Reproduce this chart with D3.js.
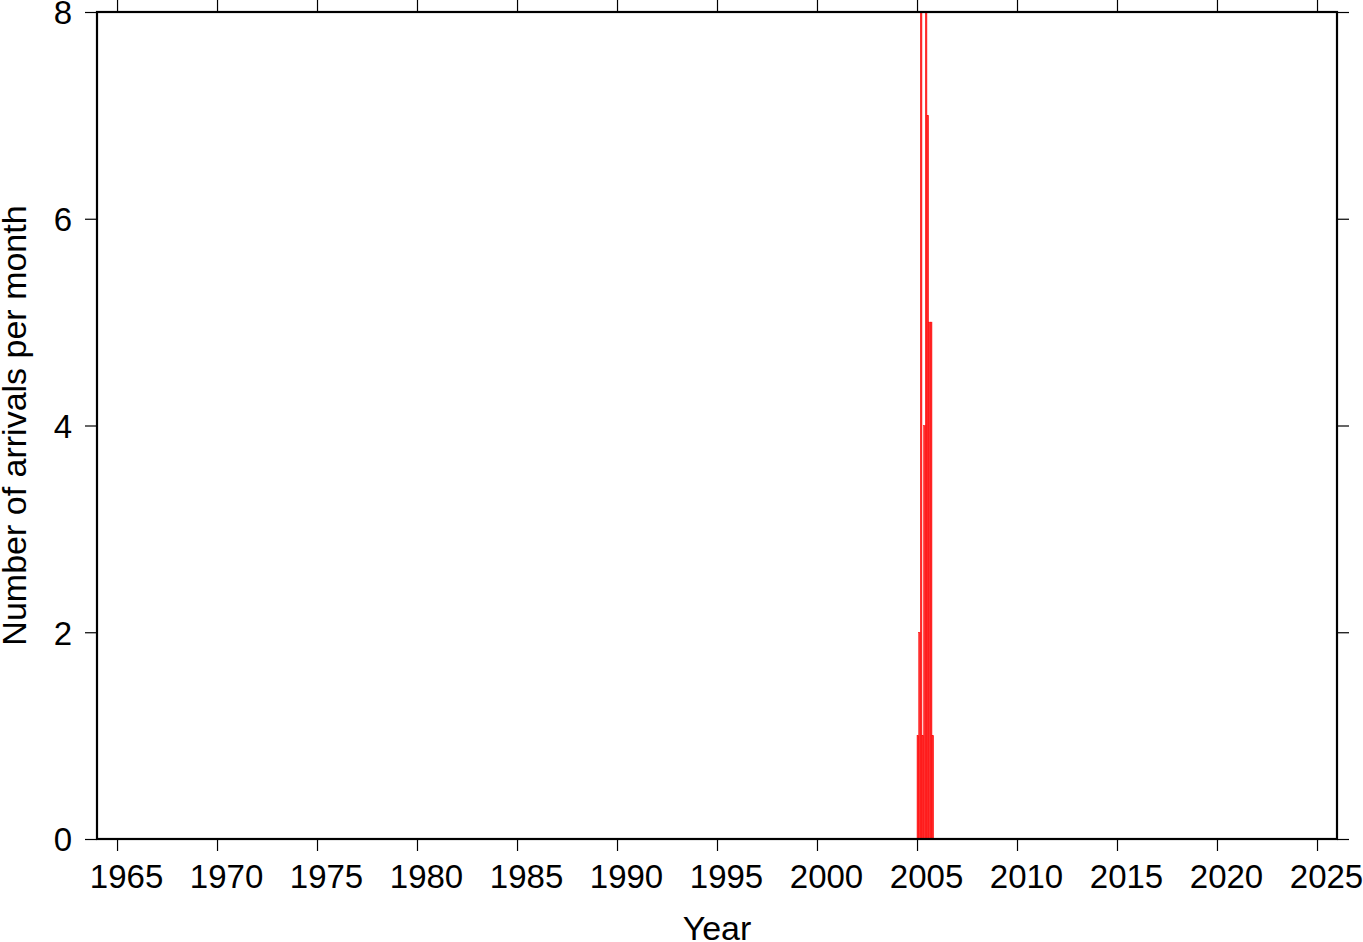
<!DOCTYPE html>
<html>
<head>
<meta charset="utf-8">
<script src="https://cdn.jsdelivr.net/npm/d3@7"></script>
<style>
  html, body { margin: 0; padding: 0; background: #fff; }
  svg { display: block; }
  text { font-family: "Liberation Sans", Arial, Helvetica, sans-serif; fill: #000; }
</style>
</head>
<body>
<svg id="chart" width="1363" height="942"></svg>
<script>
// ---- data ----
const months = ["2005-01","2005-02","2005-03","2005-04","2005-05","2005-06",
                "2005-07","2005-08","2005-09","2005-10","2005-11","2005-12"];
const arrivals = [1, 2, 11, 1, 4, 13, 7, 5, 5, 1, 0, 0];
const xTickYears = [1965,1970,1975,1980,1985,1990,1995,2000,2005,2010,2015,2020,2025];
const yTickValues = [0, 2, 4, 6, 8];
const xDomainYears = [1964, 2026];
const yDomain = [0, 8];
const xTitle = "Year";
const yTitle = "Number of arrivals per month";

// ---- layout ----
const svg = d3.select("#chart");
const L = 97, R = 1337, T = 12, B = 839;
const parseMonth = d3.timeParse("%Y-%m");

const x = d3.scaleTime()
  .domain(xDomainYears.map(y => new Date(y, 0, 1)))
  .range([L, R]);
const y = d3.scaleLinear().domain(yDomain).range([B, T]);

svg.append("defs").append("clipPath").attr("id", "clip")
  .append("rect").attr("x", L).attr("y", T).attr("width", R - L).attr("height", B - T);

const data = months.map((m, i) => ({ start: parseMonth(m), value: arrivals[i] }));

svg.append("g").attr("clip-path", "url(#clip)")
  .selectAll("rect").data(data.filter(d => d.value > 0)).join("rect")
  .attr("x", d => x(d.start))
  .attr("width", d => x(d3.timeMonth.offset(d.start, 1)) - x(d.start))
  .attr("y", d => y(d.value))
  .attr("height", d => y(0) - y(d.value))
  .attr("fill", "#ff3030")
  .attr("stroke", "#ff0000")
  .attr("stroke-width", 0.5);

// ---- axes ----
const fs = 33;
const xTicks = xTickYears.map(yr => new Date(yr, 0, 1));
const bottomAxis = d3.axisBottom(x).tickValues(xTicks).tickFormat(d3.timeFormat("%Y"))
  .tickSizeInner(12).tickSizeOuter(0).tickPadding(10);
const topAxis = d3.axisTop(x).tickValues(xTicks).tickFormat("").tickSizeInner(12).tickSizeOuter(0);
const leftAxis = d3.axisLeft(y).tickValues(yTickValues).tickFormat(d3.format("d"))
  .tickSizeInner(12).tickSizeOuter(0).tickPadding(13);
const rightAxis = d3.axisRight(y).tickValues(yTickValues).tickFormat("").tickSizeInner(12).tickSizeOuter(0);

function style(g) {
  g.select(".domain").remove();
  g.selectAll(".tick line").attr("stroke", "#000").attr("stroke-width", 1.2);
  g.selectAll(".tick text").attr("font-size", fs).attr("fill", "#000")
    .attr("font-family", "'Liberation Sans', Arial, Helvetica, sans-serif");
}
svg.append("g").attr("transform", `translate(0,${B})`).call(bottomAxis).call(style)
  .selectAll(".tick text").attr("dy", null).attr("y", 49).attr("x", 9);
svg.append("g").attr("transform", `translate(0,${T})`).call(topAxis).call(style);
svg.append("g").attr("transform", `translate(${L},0)`).call(leftAxis).call(style)
  .selectAll(".tick text").attr("dy", "0.36em");
svg.append("g").attr("transform", `translate(${R},0)`).call(rightAxis).call(style);

// frame
svg.append("rect").attr("x", L).attr("y", T).attr("width", R - L).attr("height", B - T)
  .attr("fill", "none").attr("stroke", "#000").attr("stroke-width", 2.2);

// titles
svg.append("text").attr("x", 717).attr("y", 940)
  .attr("text-anchor", "middle").attr("font-size", 34).text(xTitle);
svg.append("text")
  .attr("transform", `translate(26,${(T + B) / 2}) rotate(-90)`)
  .attr("text-anchor", "middle").attr("font-size", 34).text(yTitle);
</script>
</body>
</html>
